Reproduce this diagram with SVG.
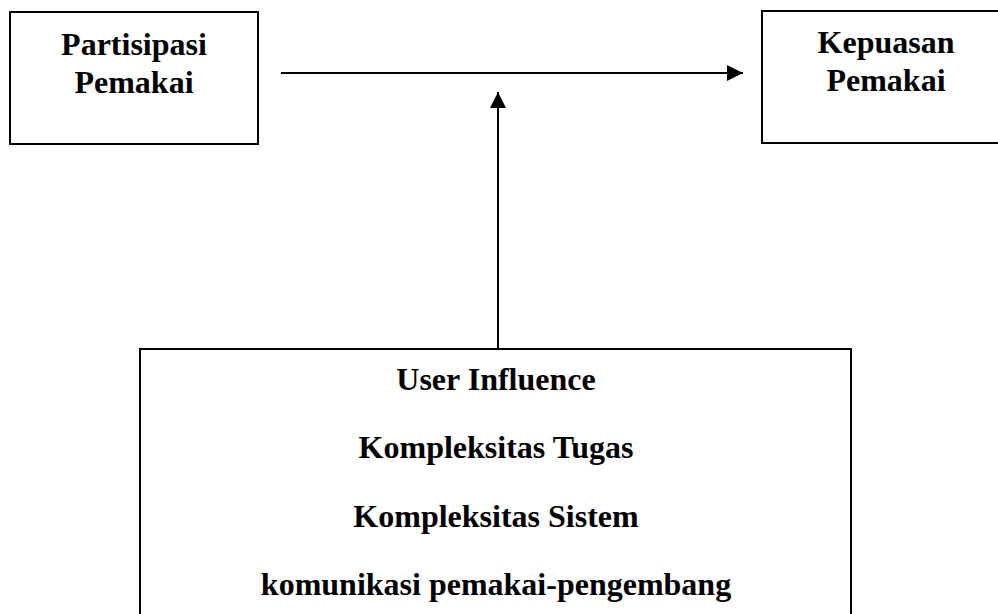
<svg xmlns="http://www.w3.org/2000/svg" width="998" height="614" viewBox="0 0 998 614">
<style>
.box{fill:#fff;stroke:#000;stroke-width:2}
.t{font-family:"Liberation Serif","Times New Roman",serif;font-weight:bold;font-size:32px;fill:#000;text-anchor:middle}
.conn{stroke:#000;stroke-width:2;fill:none}
</style>
<defs>
<marker id="ah" markerWidth="16" markerHeight="16" refX="16" refY="8" orient="auto" markerUnits="userSpaceOnUse">
<path d="M0,0 L16,8 L0,16 Z" fill="#000"/>
</marker>
</defs>
<rect width="998" height="614" fill="#fff"/>
<g id="partisipasi">
<rect class="box" x="10" y="12" width="248" height="132"/>
<text class="t" x="134" y="55">Partisipasi</text>
<text class="t" x="134" y="93">Pemakai</text>
</g>
<g id="kepuasan">
<rect class="box" x="762" y="11" width="250" height="132"/>
<text class="t" x="886" y="53">Kepuasan</text>
<text class="t" x="886" y="91">Pemakai</text>
</g>
<g id="moderator">
<rect class="box" x="140" y="349" width="711" height="280"/>
<text class="t" x="496" y="390">User Influence</text>
<text class="t" x="496" y="458">Kompleksitas Tugas</text>
<text class="t" x="496" y="527">Kompleksitas Sistem</text>
<text class="t" x="496" y="595">komunikasi pemakai-pengembang</text>
</g>
<g id="connectors">
<line class="conn" x1="281" y1="73" x2="743" y2="73" marker-end="url(#ah)"/>
<line class="conn" x1="498" y1="348" x2="498" y2="92" marker-end="url(#ah)"/>
</g>
</svg>
